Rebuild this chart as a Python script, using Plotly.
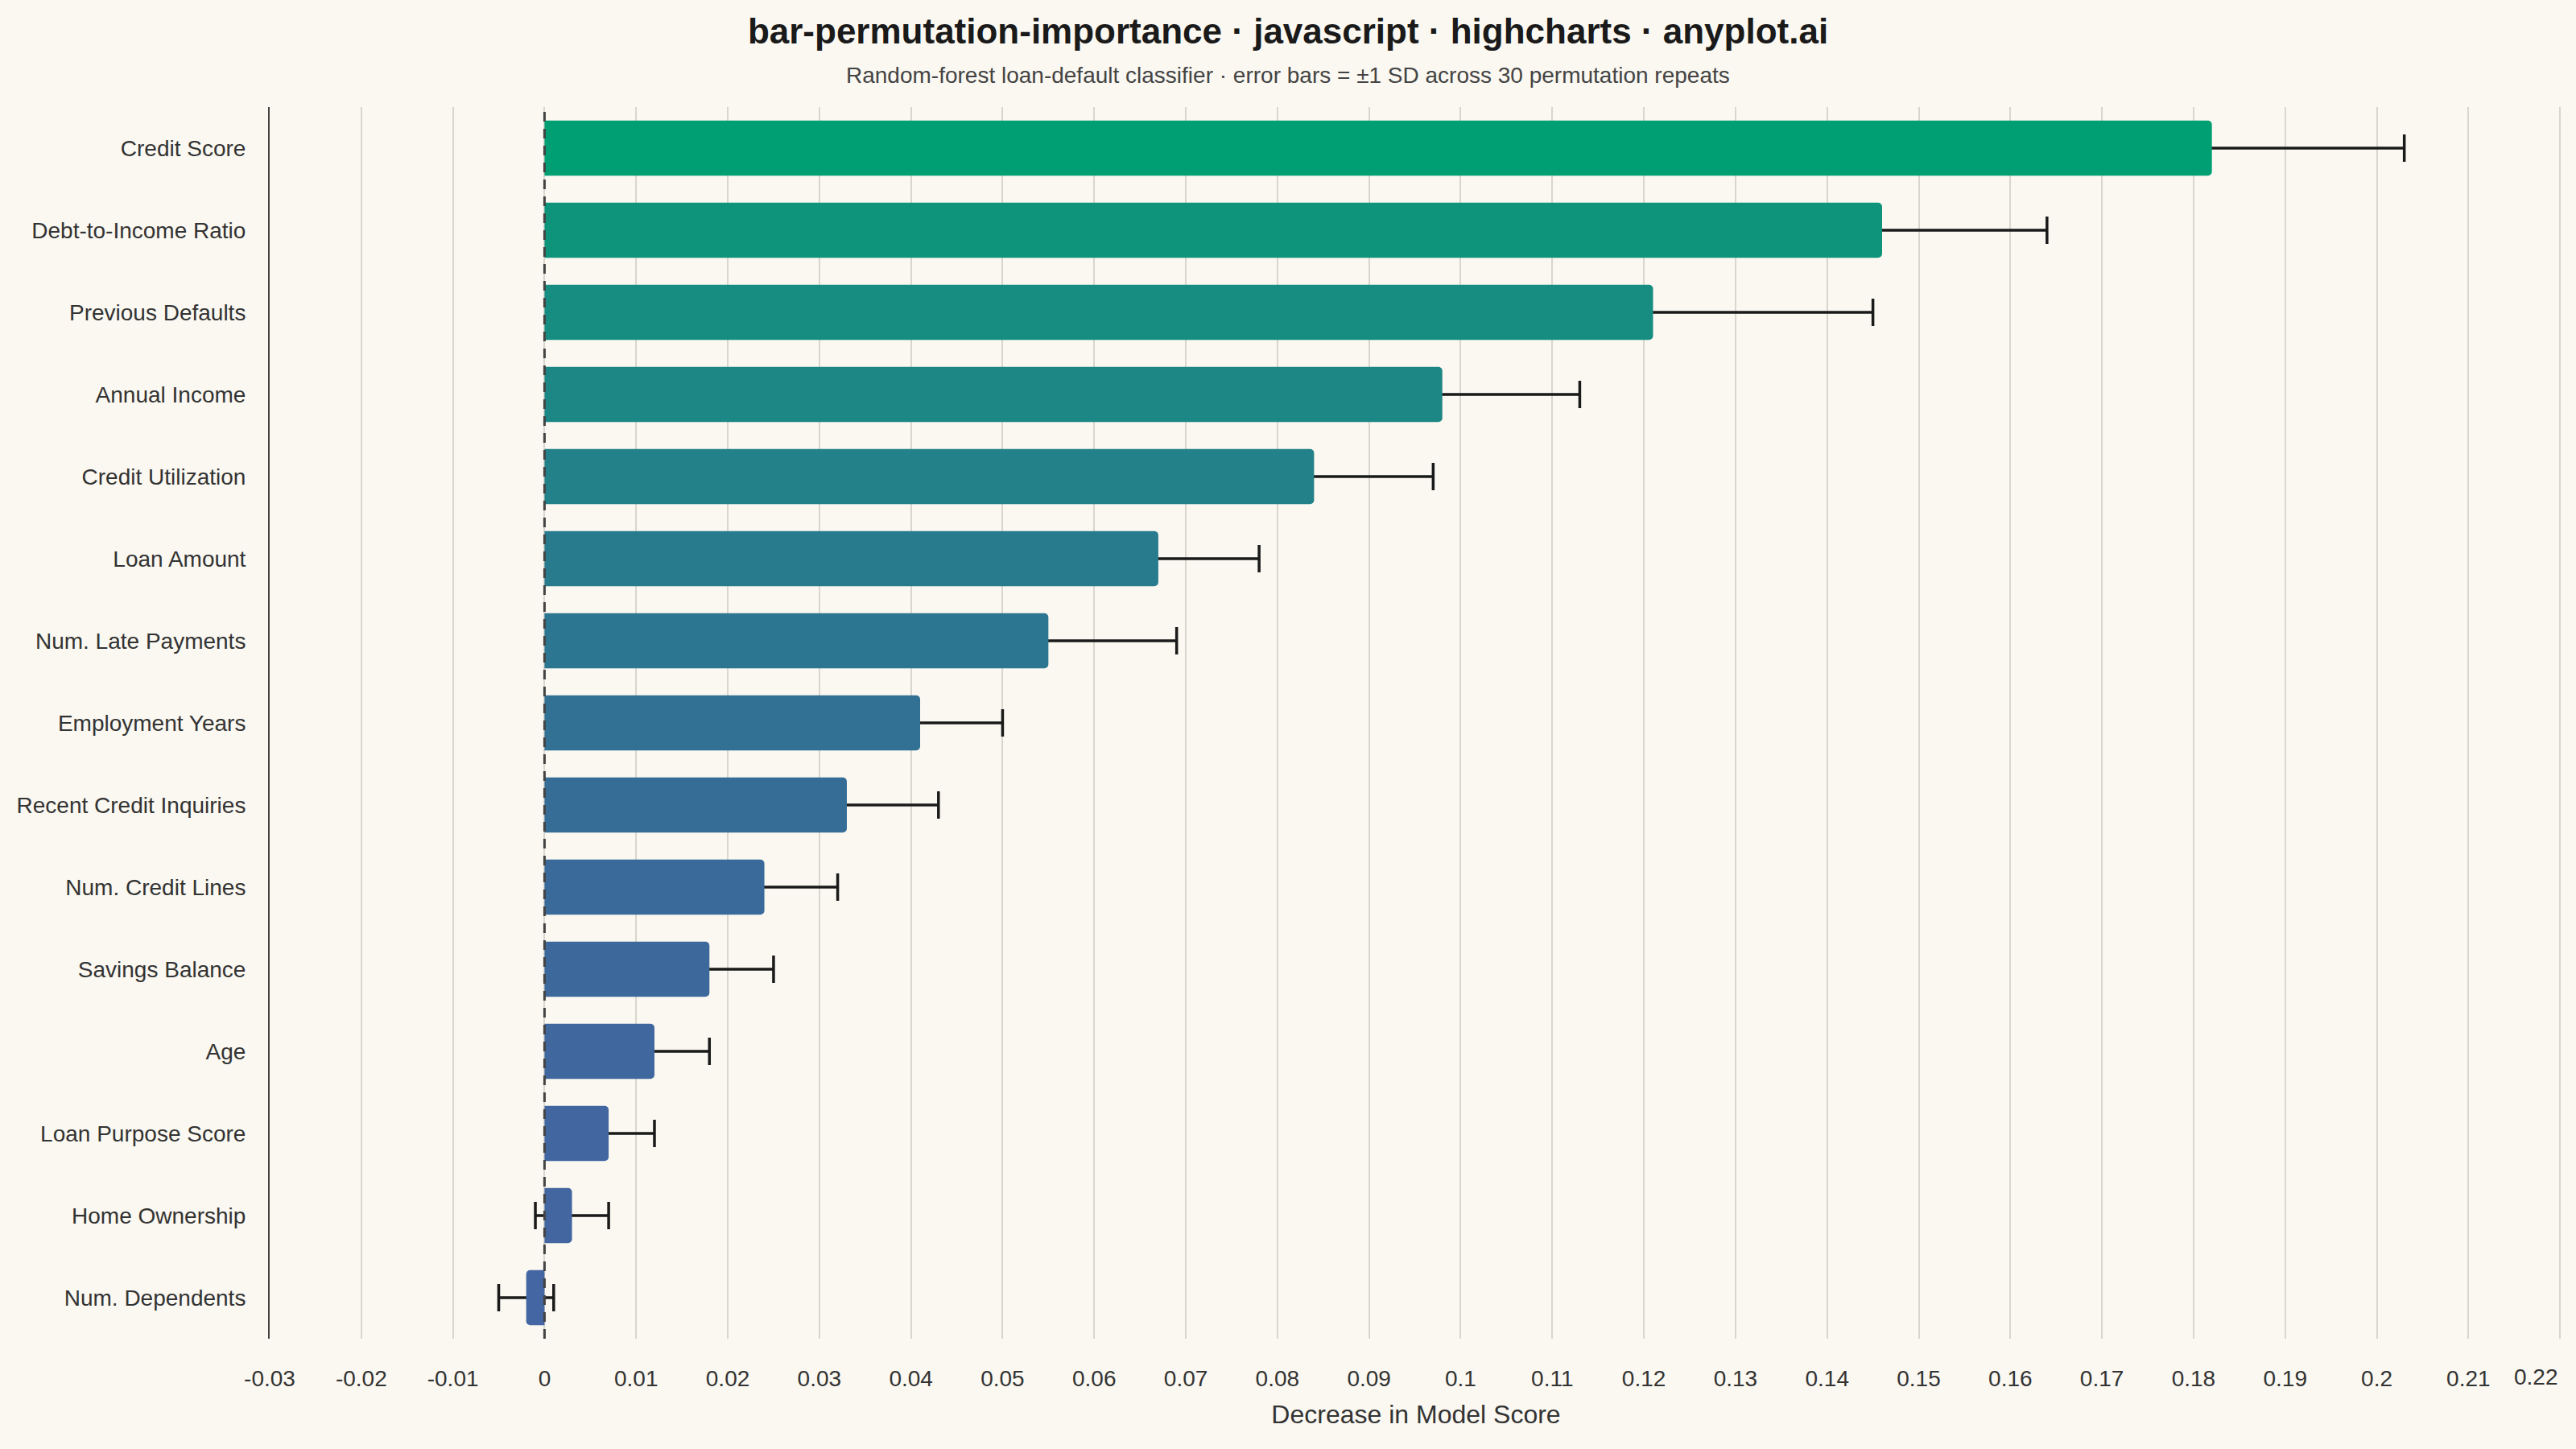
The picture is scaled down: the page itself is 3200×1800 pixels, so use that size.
import plotly.graph_objects as go

features = [
    "Credit Score", "Debt-to-Income Ratio", "Previous Defaults", "Annual Income",
    "Credit Utilization", "Loan Amount", "Num. Late Payments", "Employment Years",
    "Recent Credit Inquiries", "Num. Credit Lines", "Savings Balance", "Age",
    "Loan Purpose Score", "Home Ownership", "Num. Dependents",
]
importance_mean = [0.182, 0.146, 0.121, 0.098, 0.084, 0.067, 0.055, 0.041,
                   0.033, 0.024, 0.018, 0.012, 0.007, 0.003, -0.002]
importance_sd = [0.021, 0.018, 0.024, 0.015, 0.013, 0.011, 0.014, 0.009,
                 0.010, 0.008, 0.007, 0.006, 0.005, 0.004, 0.003]
x_tick_values = [-0.03, -0.02, -0.01, 0, 0.01, 0.02, 0.03, 0.04, 0.05, 0.06, 0.07,
                 0.08, 0.09, 0.1, 0.11, 0.12, 0.13, 0.14, 0.15, 0.16, 0.17, 0.18,
                 0.19, 0.2, 0.21, 0.22]
x_tick_labels = ["-0.03", "-0.02", "-0.01", "0", "0.01", "0.02", "0.03", "0.04",
                 "0.05", "0.06", "0.07", "0.08", "0.09", "0.1", "0.11", "0.12",
                 "0.13", "0.14", "0.15", "0.16", "0.17", "0.18", "0.19", "0.2",
                 "0.21", "0.22"]

bar_colors = ["#009E73", "#0E947B", "#168D80", "#1D8785", "#238189", "#287B8D",
              "#2D7691", "#327194", "#366D97", "#3A6A9A", "#3D689C", "#40679E",
              "#4266A0", "#4366A1", "#4466A2"]

W, H = 3200, 1800
M_L, M_R, M_T, M_B = 335, 17, 133, 137
FONT = "Liberation Sans, Arial, sans-serif"
BG = "#FAF8F1"
Y_RANGE = [len(features) - 0.5, -0.5]
X_RANGE = [-0.03, 0.22025]
CANVAS_CENTER_PAPER_X = (W / 2 - M_L) / (W - M_L - M_R)

fig = go.Figure()
# error bars on the base subplot (drawn underneath the bars)
fig.add_trace(go.Scatter(
    x=importance_mean,
    y=features,
    mode="markers",
    marker=dict(size=1, opacity=0),
    error_x=dict(type="data", array=importance_sd, visible=True,
                 color="#1a1a1a", thickness=3.5, width=17),
    hoverinfo="skip",
    xaxis="x", yaxis="y",
))
# bars on an overlaid subplot so they cover the inner half of each error bar
fig.add_trace(go.Bar(
    x=importance_mean,
    y=features,
    orientation="h",
    marker=dict(color=bar_colors, line=dict(width=0), cornerradius=5),
    hoverinfo="x+y",
    xaxis="x2", yaxis="y2",
))

# hide last tick label (drawn as annotation so it fits inside the canvas)
shown_labels = x_tick_labels[:-1] + [""]

fig.update_layout(
    width=W, height=H,
    paper_bgcolor=BG, plot_bgcolor=BG,
    margin=dict(l=M_L, r=M_R, t=M_T, b=M_B, autoexpand=False),
    showlegend=False,
    bargap=0.33,
    font=dict(family=FONT, color="#333333"),
    title=dict(
        text="<b>bar-permutation-importance · javascript · highcharts · anyplot.ai</b>",
        x=0.5, xanchor="center", xref="container",
        y=1 - 39 / H, yanchor="middle", yref="container",
        font=dict(family=FONT, size=44, color="#1a1a1a"),
    ),
    xaxis=dict(
        range=X_RANGE,
        tickmode="array", tickvals=x_tick_values, ticktext=shown_labels,
        tickfont=dict(size=28, color="#333333"),
        showgrid=True, gridcolor="#D9D6CE", gridwidth=2,
        zeroline=False, showline=False, ticks="",
        ticklabelstandoff=30,
        title=dict(text="Decrease in Model Score", font=dict(size=32, color="#333333"),
                   standoff=18),
        automargin=False,
    ),
    yaxis=dict(
        categoryorder="array", categoryarray=features, range=Y_RANGE,
        tickfont=dict(size=28, color="#333333"),
        showgrid=False, zeroline=False,
        showline=True, linecolor="#444444", linewidth=2,
        ticks="", ticklabelstandoff=22,
        automargin=False,
    ),
    xaxis2=dict(
        overlaying="x", range=X_RANGE, visible=False,
        showgrid=False, zeroline=False,
    ),
    yaxis2=dict(
        overlaying="y", categoryorder="array", categoryarray=features,
        range=Y_RANGE, visible=False, showgrid=False, zeroline=False,
    ),
    shapes=[dict(
        type="line", xref="x", yref="paper", x0=0, x1=0, y0=0, y1=1,
        line=dict(color="#444444", width=3, dash="12px,9px"), layer="above",
    )],
    annotations=[
        dict(
            text="Random-forest loan-default classifier · error bars = ±1 SD across 30 permutation repeats",
            xref="paper", yref="paper", x=CANVAS_CENTER_PAPER_X,
            y=(H - M_B - 93) / (H - M_T - M_B),
            xanchor="center", yanchor="middle", showarrow=False,
            font=dict(family=FONT, size=28, color="#444444"),
        ),
        dict(
            text=x_tick_labels[-1], xref="x", yref="paper", x=x_tick_values[-1], y=0,
            xanchor="right", yanchor="top", yshift=-30, showarrow=False,
            font=dict(family=FONT, size=28, color="#333333"),
        ),
    ],
)

fig.write_html(
    "out.html",
    config={"displayModeBar": False},
    post_script="document.body.style.margin='0';document.body.style.overflow='hidden';",
)
